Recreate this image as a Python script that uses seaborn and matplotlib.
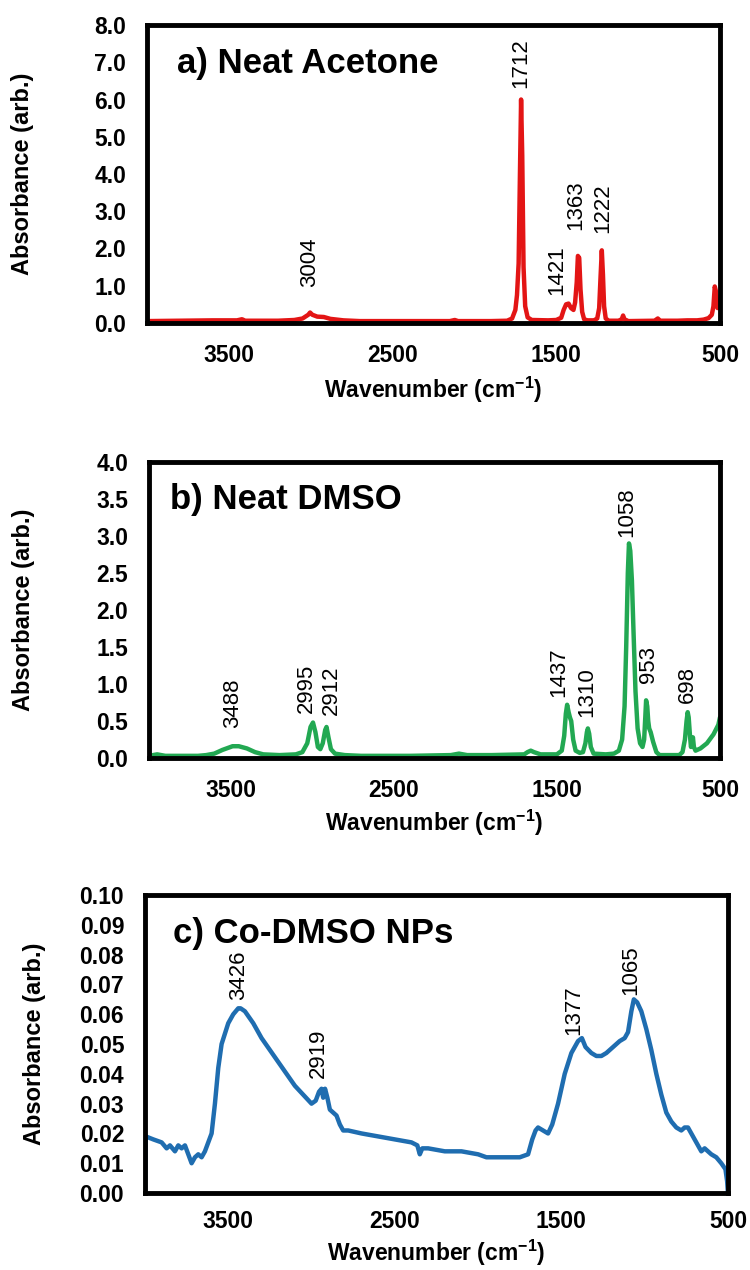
import numpy as np
import pandas as pd
import matplotlib
matplotlib.use("Agg")
import matplotlib.pyplot as plt
import seaborn as sns

# --- Data (wavenumber cm-1, absorbance) ---
acetone_wn = [4000, 3800, 3600, 3450, 3420, 3400, 3200, 3100, 3050, 3015, 3004, 2990, 2960,
              2920, 2880, 2800, 2700, 2400, 2150, 2120, 2100, 1900, 1800, 1770, 1750, 1740,
              1730, 1722, 1715, 1708, 1700, 1690, 1675, 1650, 1550, 1500, 1470, 1455, 1440,
              1425, 1410, 1395, 1385, 1375, 1368, 1360, 1352, 1342, 1330, 1310, 1270, 1250,
              1238, 1230, 1222, 1215, 1208, 1198, 1180, 1120, 1100, 1092, 1084, 1060, 900,
              880, 865, 800, 760, 700, 640, 600, 570, 550, 540, 532, 525, 515, 508, 500]
acetone_ab = [0.05, 0.06, 0.07, 0.07, 0.10, 0.06, 0.06, 0.08, 0.12, 0.22, 0.28, 0.22, 0.17,
              0.16, 0.11, 0.07, 0.05, 0.05, 0.05, 0.08, 0.05, 0.05, 0.06, 0.12, 0.35, 0.75,
              1.6, 4.0, 6.0, 4.5, 1.5, 0.45, 0.15, 0.08, 0.07, 0.08, 0.14, 0.35, 0.50,
              0.52, 0.40, 0.35, 0.55, 1.10, 1.80, 1.75, 0.90, 0.30, 0.10, 0.07, 0.07, 0.12,
              0.40, 1.20, 1.95, 1.30, 0.45, 0.12, 0.06, 0.06, 0.10, 0.20, 0.10, 0.05, 0.06,
              0.12, 0.06, 0.06, 0.06, 0.07, 0.07, 0.09, 0.13, 0.22, 0.45, 0.98, 0.85, 0.40,
              0.45, 0.60]

dmso_wn = [4000, 3950, 3900, 3800, 3700, 3650, 3600, 3550, 3500, 3488, 3450, 3400, 3350,
           3300, 3200, 3100, 3060, 3030, 3010, 2995, 2980, 2965, 2950, 2935, 2920, 2912,
           2900, 2885, 2860, 2800, 2700, 2400, 2150, 2100, 2050, 1900, 1700, 1680, 1660,
           1640, 1600, 1500, 1470, 1455, 1445, 1437, 1428, 1420, 1412, 1400, 1385, 1360,
           1340, 1325, 1316, 1310, 1302, 1292, 1275, 1200, 1150, 1120, 1100, 1085, 1075,
           1065, 1058, 1050, 1040, 1030, 1018, 1005, 990, 975, 965, 958, 953, 946, 940,
           934, 925, 910, 890, 870, 800, 750, 730, 715, 705, 698, 692, 684, 678, 672,
           666, 660, 650, 620, 580, 540, 510, 500]
dmso_ab = [0.03, 0.05, 0.03, 0.03, 0.03, 0.04, 0.06, 0.11, 0.15, 0.16, 0.16, 0.13, 0.08,
           0.05, 0.04, 0.05, 0.08, 0.20, 0.42, 0.48, 0.35, 0.15, 0.12, 0.20, 0.38, 0.42,
           0.28, 0.12, 0.06, 0.04, 0.03, 0.03, 0.04, 0.06, 0.04, 0.04, 0.05, 0.08, 0.10,
           0.08, 0.05, 0.05, 0.10, 0.30, 0.60, 0.72, 0.62, 0.55, 0.50, 0.25, 0.10, 0.07,
           0.08, 0.20, 0.35, 0.40, 0.33, 0.15, 0.06, 0.05, 0.06, 0.10, 0.25, 0.70, 1.50,
           2.50, 2.90, 2.80, 2.40, 1.70, 0.90, 0.40, 0.20, 0.15, 0.25, 0.55, 0.78, 0.70,
           0.50, 0.40, 0.35, 0.22, 0.08, 0.04, 0.04, 0.04, 0.08, 0.25, 0.50, 0.62, 0.55,
           0.30, 0.15, 0.20, 0.28, 0.15, 0.10, 0.13, 0.20, 0.32, 0.45, 0.55]

codmso_wn = [4000, 3995, 3950, 3900, 3870, 3850, 3820, 3800, 3780, 3760, 3740, 3720, 3700,
             3680, 3660, 3640, 3620, 3600, 3580, 3560, 3540, 3500, 3470, 3440, 3426, 3400,
             3350, 3300, 3250, 3200, 3150, 3100, 3050, 3000, 2975, 2955, 2940, 2930, 2919,
             2905, 2890, 2870, 2850, 2830, 2810, 2780, 2700, 2600, 2500, 2400, 2365, 2350,
             2335, 2300, 2200, 2100, 2000, 1950, 1900, 1800, 1750, 1700, 1675, 1655, 1640,
             1610, 1580, 1555, 1520, 1480, 1440, 1400, 1377, 1355, 1320, 1290, 1260, 1230,
             1190, 1150, 1120, 1100, 1080, 1065, 1045, 1020, 990, 960, 930, 900, 870, 840,
             810, 780, 760, 740, 720, 700, 680, 660, 640, 620, 600, 570, 540, 515, 505, 500]
codmso_ab = [0.000, 0.019, 0.018, 0.017, 0.015, 0.016, 0.014, 0.016, 0.015, 0.016, 0.013,
             0.010, 0.012, 0.013, 0.012, 0.014, 0.017, 0.020, 0.030, 0.042, 0.050, 0.057,
             0.060, 0.062, 0.062, 0.061, 0.057, 0.052, 0.048, 0.044, 0.040, 0.036, 0.033,
             0.030, 0.031, 0.034, 0.035, 0.032, 0.035, 0.032, 0.028, 0.027, 0.026, 0.023,
             0.021, 0.021, 0.020, 0.019, 0.018, 0.017, 0.016, 0.013, 0.015, 0.015, 0.014,
             0.014, 0.013, 0.012, 0.012, 0.012, 0.012, 0.013, 0.018, 0.021, 0.022, 0.021,
             0.020, 0.023, 0.030, 0.040, 0.047, 0.051, 0.052, 0.049, 0.047, 0.046, 0.046,
             0.047, 0.049, 0.051, 0.052, 0.054, 0.061, 0.065, 0.064, 0.061, 0.055, 0.048,
             0.040, 0.033, 0.027, 0.024, 0.022, 0.021, 0.022, 0.022, 0.020, 0.018, 0.016,
             0.014, 0.015, 0.014, 0.013, 0.012, 0.010, 0.008, 0.004, 0.000]

acetone_peaks = ["3004", "1712", "1421", "1363", "1222"]
dmso_peaks = ["3488", "2995", "2912", "1437", "1310", "1058", "953", "698"]
codmso_peaks = ["3426", "2919", "1377", "1065"]

x_ticks = [3500, 2500, 1500, 500]

# where each peak label sits (wavenumber, bottom of text)
acetone_lab_pos = {"3004": (3008, 0.97), "1712": (1715, 6.3), "1421": (1497, 0.75),
                   "1363": (1383, 2.5), "1222": (1214, 2.42)}
dmso_lab_pos = {"3488": (3490, 0.40), "2995": (3033, 0.61), "2912": (2885, 0.58),
                "1437": (1486, 0.82), "1310": (1318, 0.55), "1058": (1072, 2.99),
                "953": (940, 1.01), "698": (697, 0.74)}
codmso_lab_pos = {"3426": (3440, 0.0648), "2919": (2959, 0.0386), "1377": (1423, 0.0530),
                  "1065": (1082, 0.0664)}

# --- Plotting ---
sns.set_style("white")
plt.rcParams['font.family'] = ['Liberation Sans', 'DejaVu Sans']
plt.rcParams['mathtext.fontset'] = 'custom'
plt.rcParams['mathtext.rm'] = 'Liberation Sans'
plt.rcParams['mathtext.bf'] = 'Liberation Sans:bold'
plt.rcParams['text.color'] = 'black'
plt.rcParams['axes.labelcolor'] = 'black'

fig = plt.figure(figsize=(7.5, 12.7), dpi=100)

panels = [
    dict(rect=[0.196, 0.7457, 0.764, 0.2346], wn=acetone_wn, ab=acetone_ab, color='#e31515',
         title='a) Neat Acetone', tx=0.052, ylim=(0, 8), yticks=np.arange(0, 8.01, 1.0),
         fmt='{:.1f}', peaks=acetone_peaks, pos=acetone_lab_pos, ylab_x=-0.197, xlab_y=-0.174,
         xpad=11),
    dict(rect=[0.1987, 0.4031, 0.7613, 0.2331], wn=dmso_wn, ab=dmso_ab, color='#22a852',
         title='b) Neat DMSO', tx=0.037, ylim=(0, 4), yticks=np.arange(0, 4.01, 0.5),
         fmt='{:.1f}', peaks=dmso_peaks, pos=dmso_lab_pos, ylab_x=-0.20, xlab_y=-0.169,
         xpad=11),
    dict(rect=[0.1933, 0.0606, 0.7773, 0.2346], wn=codmso_wn, ab=codmso_ab, color='#1f6db0',
         title='c) Co-DMSO NPs', tx=0.048, ylim=(0, 0.1), yticks=np.arange(0, 0.1001, 0.01),
         fmt='{:.2f}', peaks=codmso_peaks, pos=codmso_lab_pos, ylab_x=-0.17, xlab_y=-0.15,
         xpad=8),
]

for p in panels:
    ax = fig.add_axes(p['rect'])
    df = pd.DataFrame({'Wavenumber': p['wn'], 'Absorbance': p['ab']})
    sns.lineplot(data=df, x='Wavenumber', y='Absorbance', color=p['color'], linewidth=3.2,
                 estimator=None, sort=False, ax=ax, solid_joinstyle='round')
    ax.set_xlim(4000, 500)
    ax.set_ylim(*p['ylim'])
    ax.set_xticks(x_ticks)
    ax.set_xticklabels([str(t) for t in x_ticks], fontsize=16.5, fontweight='bold')
    ax.set_yticks(p['yticks'])
    ax.set_yticklabels([p['fmt'].format(v) for v in p['yticks']], fontsize=16.5, fontweight='bold')
    ax.tick_params(axis='both', direction='out', length=4, width=1, color='#999999',
                   labelcolor='black', pad=11)
    ax.tick_params(axis='x', pad=p['xpad'])
    for s in ax.spines.values():
        s.set_color('black')
        s.set_linewidth(3.5)
    ax.set_xlabel('Wavenumber (cm$^{\\mathbf{-1}}$)', fontsize=16.5, fontweight='bold')
    ax.set_ylabel('Absorbance (arb.)', fontsize=17, fontweight='bold')
    ax.xaxis.set_label_coords(0.5, p['xlab_y'])
    ax.yaxis.set_label_coords(p['ylab_x'], 0.5)
    ax.text(p['tx'], 0.872, p['title'], transform=ax.transAxes, fontsize=25,
            fontweight='bold', va='center', ha='left')

    # peak labels above each band
    for lab in p['peaks']:
        x, y = p['pos'][lab]
        ax.text(x, y, lab, rotation=90, ha='center', va='bottom', fontsize=16)

fig.savefig('out.png', dpi=100)
